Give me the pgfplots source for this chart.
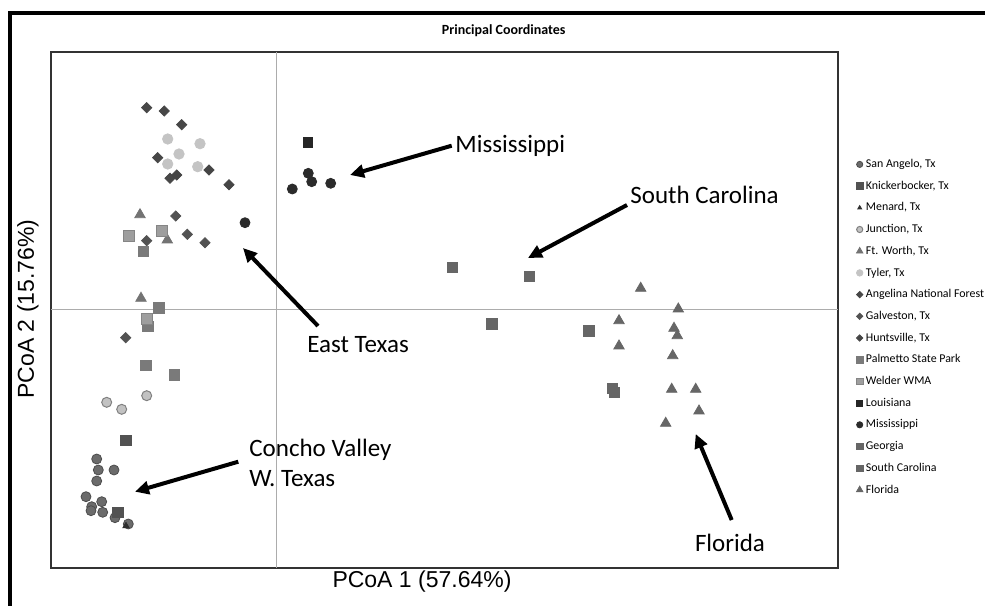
\documentclass[border=0pt]{standalone}
\usepackage{pgfplots}
\pgfplotsset{compat=1.18}
\usepackage{fontspec}
\setmainfont{Carlito}
\newfontfamily\arialfont{Liberation Sans}
\usetikzlibrary{arrows.meta}
\definecolor{cSA}{gray}{0.42}
\definecolor{cSAe}{gray}{0.30}
\definecolor{cKn}{gray}{0.32}
\definecolor{cMe}{gray}{0.18}
\definecolor{cJu}{gray}{0.76}
\definecolor{cJue}{gray}{0.50}
\definecolor{cFW}{gray}{0.45}
\definecolor{cTy}{gray}{0.77}
\definecolor{cAn}{gray}{0.28}
\definecolor{cGa}{gray}{0.32}
\definecolor{cHu}{gray}{0.27}
\definecolor{cPa}{gray}{0.48}
\definecolor{cWe}{gray}{0.62}
\definecolor{cWee}{gray}{0.52}
\definecolor{cLo}{gray}{0.15}
\definecolor{cMi}{gray}{0.17}
\definecolor{cGe}{gray}{0.40}
\definecolor{cSC}{gray}{0.40}
\definecolor{cFl}{gray}{0.40}
\begin{document}
\begin{tikzpicture}
\begin{axis}[
  x=50pt, y=50pt,
  xmin=-2.25, xmax=5.62, ymin=-2.58, ymax=2.58,
  xtick=\empty, ytick=\empty,
  axis line style={draw=black!80, line width=0.8pt},
  clip=false,
  legend cell align=left,
  legend style={at={(axis cs:5.795,1.53)}, anchor=north west, draw=none, fill=none,
    inner sep=0pt, font=\fontsize{5.95}{7}\selectfont, row sep=3.85pt,
    nodes={inner sep=0.5pt, text height=4.6pt, text depth=1.4pt}},
  legend image code/.code={\path[draw=none,fill=none] (0pt,0pt) -- (4.5pt,0pt); \draw[#1] plot coordinates {(1.9pt,0pt)};},
  legend image post style={every mark/.append style={scale=0.62}},
]
\draw[gray!65, line width=0.5pt] (axis cs:0,-2.58) -- (axis cs:0,2.58);
\draw[gray!65, line width=0.5pt] (axis cs:-2.25,0) -- (axis cs:5.62,0);

% San Angelo
\addplot[only marks, mark=*, mark size=2.5pt, mark options={fill=cSA, draw=cSAe}] coordinates {
(-1.793,-1.49) (-1.777,-1.60) (-1.62,-1.60) (-1.793,-1.71) (-1.90,-1.867) (-1.743,-1.917)
(-1.843,-1.967) (-1.85,-2.007) (-1.733,-2.023) (-1.61,-2.077) (-1.477,-2.14)};
\addlegendentry{San Angelo, Tx}
% Knickerbocker
\addplot[only marks, mark=square*, mark size=2.6pt, mark options={fill=cKn, draw=cKn}] coordinates {
(-1.50,-1.307) (-1.583,-2.027)};
\addlegendentry{Knickerbocker, Tx}
% Menard
\addplot[only marks, mark=triangle*, mark size=1.8pt, mark options={fill=cMe, draw=cMe}] coordinates {
(-1.50,-2.16)};
\addlegendentry{Menard, Tx}
% Junction
\addplot[only marks, mark=*, mark size=2.5pt, mark options={fill=cJu, draw=cJue, line width=0.5pt}] coordinates {
(-1.293,-0.857) (-1.693,-0.923) (-1.543,-0.993)};
\addlegendentry{Junction, Tx}
% Ft. Worth
\addplot[only marks, mark=triangle*, mark size=3pt, mark options={fill=cFW, draw=cFW}] coordinates {
(-1.36,0.953) (-1.087,0.70) (-1.35,0.117)};
\addlegendentry{Ft. Worth, Tx}
% Tyler
\addplot[only marks, mark=*, mark size=2.6pt, mark options={fill=cTy, draw=cTy}] coordinates {
(-1.083,1.71) (-0.76,1.663) (-0.97,1.56) (-1.083,1.46) (-0.783,1.433)};
\addlegendentry{Tyler, Tx}
% Angelina
\addplot[only marks, mark=square*, mark size=1.8pt, mark options={rotate=45, fill=cAn, draw=cAn}] coordinates {
(-1.293,2.023) (-1.117,1.99) (-0.943,1.853) (-1.183,1.523) (-1.06,1.317)};
\addlegendentry{Angelina National Forest}
% Galveston
\addplot[only marks, mark=square*, mark size=1.8pt, mark options={rotate=45, fill=cGa, draw=cGa}] coordinates {
(-1.003,0.94) (-1.293,0.693) (-0.887,0.757) (-0.71,0.673) (-1.503,-0.277)};
\addlegendentry{Galveston, Tx}
% Huntsville
\addplot[only marks, mark=square*, mark size=1.8pt, mark options={rotate=45, fill=cHu, draw=cHu}] coordinates {
(-0.993,1.35) (-0.67,1.40) (-0.47,1.253)};
\addlegendentry{Huntsville, Tx}
% Palmetto
\addplot[only marks, mark=square*, mark size=2.6pt, mark options={fill=cPa, draw=cPa}] coordinates {
(-1.327,0.587) (-1.17,0.02) (-1.283,-0.167) (-1.30,-0.557) (-1.017,-0.65)};
\addlegendentry{Palmetto State Park}
% Welder WMA
\addplot[only marks, mark=square*, mark size=2.7pt, mark options={fill=cWe, draw=cWee, line width=0.5pt}] coordinates {
(-1.467,0.743) (-1.143,0.79) (-1.287,-0.093)};
\addlegendentry{Welder WMA}
% Louisiana
\addplot[only marks, mark=square*, mark size=2.4pt, mark options={fill=cLo, draw=cLo}] coordinates {
(0.317,1.673)};
\addlegendentry{Louisiana}
% Mississippi
\addplot[only marks, mark=*, mark size=2.5pt, mark options={fill=cMi, draw=cMi}] coordinates {
(-0.31,0.873) (0.323,1.367) (0.357,1.283) (0.547,1.267) (0.163,1.21)};
\addlegendentry{Mississippi}
% Georgia
\addplot[only marks, mark=square*, mark size=2.6pt, mark options={fill=cGe, draw=cGe}] coordinates {
(1.763,0.427) (2.157,-0.14) (3.365,-0.787)};
\addlegendentry{Georgia}
% South Carolina
\addplot[only marks, mark=square*, mark size=2.6pt, mark options={fill=cSC, draw=cSC}] coordinates {
(2.533,0.333) (3.13,-0.21) (3.383,-0.827)};
\addlegendentry{South Carolina}
% Florida
\addplot[only marks, mark=triangle*, mark size=3pt, mark options={fill=cFl, draw=cFl}] coordinates {
(3.647,0.217) (4.023,0.01) (3.43,-0.107) (3.98,-0.183) (4.013,-0.257) (3.43,-0.36)
(3.967,-0.457) (3.957,-0.793) (4.197,-0.793) (4.23,-1.01) (3.897,-1.133)};
\addlegendentry{Florida}

% arrows
\draw[line width=2pt, -{Triangle[length=7pt,width=6.5pt]}] (axis cs:1.757,1.643) -- (axis cs:0.74,1.35);
\draw[line width=2pt, -{Triangle[length=7pt,width=6.5pt]}] (axis cs:3.51,1.05) -- (axis cs:2.52,0.52);
\draw[line width=2pt, -{Triangle[length=7pt,width=6.5pt]}] (axis cs:0.42,-0.16) -- (axis cs:-0.33,0.62);
\draw[line width=2pt, -{Triangle[length=7pt,width=6.5pt]}] (axis cs:-0.377,-1.517) -- (axis cs:-1.41,-1.817);
\draw[line width=2pt, -{Triangle[length=7pt,width=6.5pt]}] (axis cs:4.557,-2.10) -- (axis cs:4.197,-1.24);

% annotations
\node[anchor=west, inner sep=0pt, font=\fontsize{12.5}{15}\selectfont] at (axis cs:1.79,1.64) {Mississippi};
\node[anchor=west, inner sep=0pt, font=\fontsize{12.5}{15}\selectfont] at (axis cs:3.54,1.15) {South Carolina};
\node[anchor=west, inner sep=0pt, font=\fontsize{12.5}{15}\selectfont] at (axis cs:0.31,-0.35) {East Texas};
\node[anchor=west, inner sep=0pt, align=left, font=\fontsize{12.5}{15}\selectfont] at (axis cs:-0.27,-1.53) {Concho Valley\\W. Texas};
\node[inner sep=0pt, font=\fontsize{12.5}{15}\selectfont] at (axis cs:4.54,-2.33) {Florida};

% titles
\node[inner sep=0pt, font=\fontsize{7}{8}\selectfont\bfseries] at (axis cs:2.277,2.793) {Principal Coordinates};
\node[inner sep=0pt, font=\arialfont\fontsize{11.5}{13}\selectfont] at (axis cs:1.46,-2.72) {PCoA 1 (57.64\%)};
\node[inner sep=0pt, rotate=90, font=\arialfont\fontsize{11.5}{13}\selectfont] at (axis cs:-2.48,0.01) {PCoA 2 (15.76\%)};

% outer frame
\draw[line width=2pt, black] (axis cs:-2.657,-3.0) -- (axis cs:-2.657,2.973) -- (axis cs:7.2,2.973);
\end{axis}
\pgfresetboundingbox
\path[use as bounding box] (-25.5pt,-18.5pt) rectangle (467pt,284pt);
\end{tikzpicture}
\end{document}
